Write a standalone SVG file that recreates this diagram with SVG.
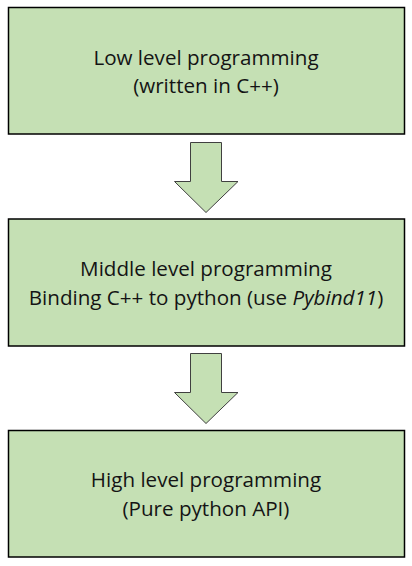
<svg xmlns="http://www.w3.org/2000/svg" width="412" height="566" viewBox="0 0 412 566">
<style>
.box{fill:#c5e0b4;stroke:#000;stroke-width:1.5}
.arr{fill:#c5e0b4;stroke:#404040;stroke-width:1}
text{font-family:"Open Sans","Liberation Sans",sans-serif;font-size:20.6px;fill:#141414;text-anchor:middle}
</style>
<rect width="412" height="566" fill="#fff"/>
<g id="low">
<rect class="box" x="8.5" y="7.5" width="396" height="126.5"/>
<text x="206" y="64.5">Low level programming</text>
<text x="206" y="93">(written in C++)</text>
</g>
<g id="middle">
<rect class="box" x="8.5" y="219" width="396" height="127"/>
<text x="206" y="276">Middle level programming</text>
<text x="206" y="304.5">Binding C++ to python (use <tspan font-style="italic">Pybind11</tspan>)</text>
</g>
<g id="high">
<rect class="box" x="8.5" y="430.5" width="396" height="126.5"/>
<text x="206" y="487">High level programming</text>
<text x="206" y="515.5">(Pure python API)</text>
</g>
<g id="connectors">
<path class="arr" d="M190.5,142.5 H221.5 V181.5 H238 L206,212.5 L174.5,181.5 H190.5 Z"/>
<path class="arr" d="M190.5,353.5 H221.5 V392.5 H238 L206,423.5 L174.5,392.5 H190.5 Z"/>
</g>
</svg>
